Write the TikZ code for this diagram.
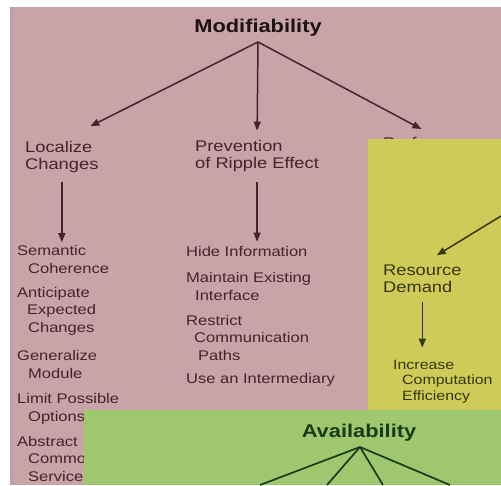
\documentclass[tikz,border=0pt]{standalone}
\usepackage{fontspec}
\setmainfont{Liberation Sans}[FakeStretch=1.18]
\usetikzlibrary{arrows.meta}
\definecolor{pinkbg}{RGB}{200,163,168}
\definecolor{yelbg}{RGB}{206,203,88}
\definecolor{grnbg}{RGB}{158,200,112}
\definecolor{pinktxt}{RGB}{70,35,42}
\definecolor{yeltxt}{RGB}{55,55,15}
\definecolor{grntxt}{RGB}{25,60,20}
\definecolor{stripc}{RGB}{182,162,167}
\definecolor{roseline}{RGB}{205,160,166}
\tikzset{
  lbl/.style={inner sep=0pt, anchor=base west, align=left, text=pinktxt, font=\fontsize{15.5}{17}\selectfont},
  itm/.style={inner sep=0pt, anchor=base west, align=left, text=pinktxt, font=\fontsize{14}{17.5}\selectfont},
  ttl/.style={inner sep=0pt, anchor=base, font=\bfseries\fontsize{18.5}{20}\selectfont},
  arr/.style={-{Triangle[length=9pt,width=7pt]}, line width=1.5pt, draw=pinktxt},
  gline/.style={line width=1.7pt, draw=grntxt}
}
\begin{document}
\begin{tikzpicture}[x=1pt,y=-1pt]
\useasboundingbox (0,0) rectangle (501,485);
\fill[white] (0,0) rectangle (501,485);
% pink background
\fill[pinkbg] (10,7) rectangle (501,485);
\fill[stripc] (10,7) rectangle (14,485);
\fill[roseline] (23,7) rectangle (26,485);

% Modifiability tree (base anchor = baseline of last line)
\node[ttl, text={rgb,255:red,30;green,18;blue,20}] (mod) at (258,32) {Modifiability};
\coordinate (mApex) at (258,42);
\node[lbl] (loc) at (25,169) {Localize\\Changes};
\node[lbl] (prev) at (195,168) {Prevention\\of Ripple Effect};
\node[lbl] (perf) at (383,148) {Performance};

\node[itm] (sem) at (17,273) {Semantic\\\hspace*{11pt}Coherence};
\node[itm] (ant) at (17,332) {Anticipate\\\hspace*{10pt}Expected\\\hspace*{11pt}Changes};
\node[itm] (gen) at (17,378) {Generalize\\\hspace*{11pt}Module};
\node[itm] (lim) at (17,421) {Limit Possible\\\hspace*{11pt}Options};
\node[itm] (abs) at (17,481) {Abstract\\\hspace*{11pt}Common\\\hspace*{11pt}Services};

\node[itm] (hide) at (186,256) {Hide Information};
\node[itm] (main) at (186,300) {Maintain Existing\\\hspace*{9pt}Interface};
\node[itm] (res) at (186,360) {Restrict\\\hspace*{8pt}Communication\\\hspace*{12pt}Paths};
\node[itm] (use) at (186,383) {Use an Intermediary};

\draw[arr, shorten >=32pt] (mApex) -- (loc.north);
\draw[arr, shorten >=9pt] (mApex) -- (prev.north);
\draw[arr, shorten >=16pt] (mApex) -- (perf.north);
\draw[arr, shorten <=10pt, shorten >=3pt] (loc.south) -- (loc.south |- sem.north);
\draw[arr, shorten <=11pt, shorten >=4pt] (prev.south) -- (prev.south |- hide.north);

% Performance panel (yellow)
\fill[yelbg] (368,139) rectangle (501,410);
\coordinate (perfIn) at (501,216);
\node[lbl, text=yeltxt] (rdem) at (383,292) {Resource\\Demand};
\node[itm, text=yeltxt, font=\fontsize{13.5}{15.5}\selectfont] (inc) at (393,400) {Increase\\\hspace*{9pt}Computation\\\hspace*{9pt}Efficiency};
\draw[arr, draw=yeltxt, shorten >=17pt] (perfIn) -- (rdem.north);
\draw[arr, draw=yeltxt, shorten <=10pt, shorten >=12pt] (rdem.south) -- (rdem.south |- inc.north);

% Availability panel (green)
\fill[grnbg] (84,410) rectangle (501,485);
\node[ttl, text=grntxt] (avail) at (359,437) {Availability};
\coordinate (aApex) at (360,447);
\coordinate (a1) at (260,485);
\coordinate (a2) at (327,485);
\coordinate (a3) at (383,485);
\coordinate (a4) at (450,485);
\draw[gline] (aApex) -- (a1);
\draw[gline] (aApex) -- (a2);
\draw[gline] (aApex) -- (a3);
\draw[gline] (aApex) -- (a4);
\end{tikzpicture}
\end{document}
